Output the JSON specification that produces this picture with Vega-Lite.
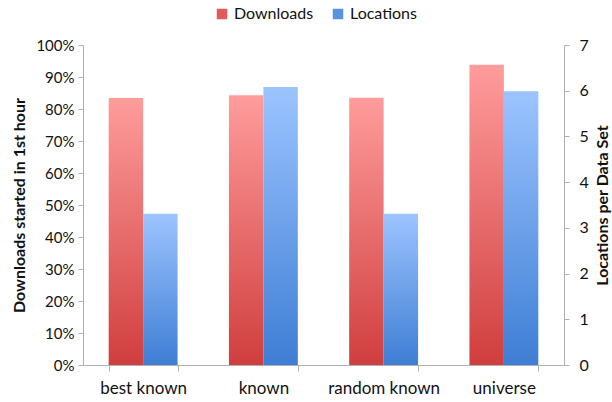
{
  "$schema": "https://vega.github.io/schema/vega-lite/v6.json",
  "width": 481,
  "height": 320,
  "autosize": {"type": "none"},
  "padding": {"left": 83, "top": 45, "right": 48, "bottom": 37},
  "background": "white",
  "config": {
    "font": "Lato",
    "view": {"stroke": null},
    "axis": {"grid": false, "domainColor": "#b0b0b0", "tickColor": "#b0b0b0", "labelColor": "#111", "titleColor": "#111", "labelFont": "Lato", "titleFont": "Lato"}
  },
  "data": {
    "values": [
      {"cat": "best known", "series": "Downloads", "value": 0.834},
      {"cat": "known", "series": "Downloads", "value": 0.843},
      {"cat": "random known", "series": "Downloads", "value": 0.835},
      {"cat": "universe", "series": "Downloads", "value": 0.938},
      {"cat": "best known", "series": "Locations", "value": 3.31},
      {"cat": "known", "series": "Locations", "value": 6.08},
      {"cat": "random known", "series": "Locations", "value": 3.31},
      {"cat": "universe", "series": "Locations", "value": 5.99}
    ]
  },
  "encoding": {
    "x": {
      "field": "cat", "type": "nominal", "sort": null,
      "scale": {"paddingInner": 0.427, "paddingOuter": 0.2135},
      "axis": {"title": null, "labelAngle": 0, "labelFontSize": 17, "labelPadding": 9, "tickBand": "extent", "tickSize": 6, "domainColor": "#b0b0b0"}
    },
    "xOffset": {"field": "series", "type": "nominal", "scale": {"domain": ["Downloads", "Locations"], "paddingInner": 0, "paddingOuter": 0}}
  },
  "layer": [
    {
      "transform": [{"filter": "datum.series === 'Downloads'"}],
      "mark": {"type": "bar"},
      "encoding": {
        "y": {
          "field": "value", "type": "quantitative",
          "scale": {"domain": [0, 1]},
          "axis": {"title": "Downloads started in 1st hour", "format": ".0%", "values": [0, 0.1, 0.2, 0.3, 0.4, 0.5, 0.6, 0.7, 0.8, 0.9, 1], "labelFontSize": 15, "titleFontSize": 16, "titleFontWeight": "bold", "tickSize": 5, "labelPadding": 4, "titlePadding": 8}
        },
        "fill": {
          "field": "series", "type": "nominal",
          "scale": {"domain": ["Downloads", "Locations"], "range": ["#E25A5A", "#5A92E2"]},
          "legend": {"title": null, "orient": "none", "direction": "horizontal", "legendX": 131, "legendY": -39, "symbolType": "square", "symbolSize": 110, "labelFontSize": 16, "labelColor": "#111", "columnPadding": 16, "labelOffset": 4, "symbolStrokeWidth": 0, "symbolOpacity": 1},
          "condition": {"test": "true", "value": {"gradient": "linear", "x1": 0, "y1": 0, "x2": 0, "y2": 1, "stops": [{"offset": 0, "color": "#FF9C9C"}, {"offset": 1, "color": "#D03E3E"}]}}
        }
      }
    },
    {
      "transform": [{"filter": "datum.series === 'Locations'"}],
      "mark": {"type": "bar"},
      "encoding": {
        "y": {
          "field": "value", "type": "quantitative",
          "scale": {"domain": [0, 7]},
          "axis": {"orient": "right", "title": "Locations per Data Set", "values": [0, 1, 2, 3, 4, 5, 6, 7], "labelFontSize": 16, "titleFontSize": 16, "titleFontWeight": "bold", "titleAngle": -90, "tickSize": 5, "labelPadding": 10, "titlePadding": 22}
        },
        "fill": {
          "field": "series", "type": "nominal",
          "condition": {"test": "true", "value": {"gradient": "linear", "x1": 0, "y1": 0, "x2": 0, "y2": 1, "stops": [{"offset": 0, "color": "#9CC4FF"}, {"offset": 1, "color": "#3E7ED4"}]}}
        }
      }
    }
  ],
  "resolve": {"scale": {"y": "independent"}}
}
